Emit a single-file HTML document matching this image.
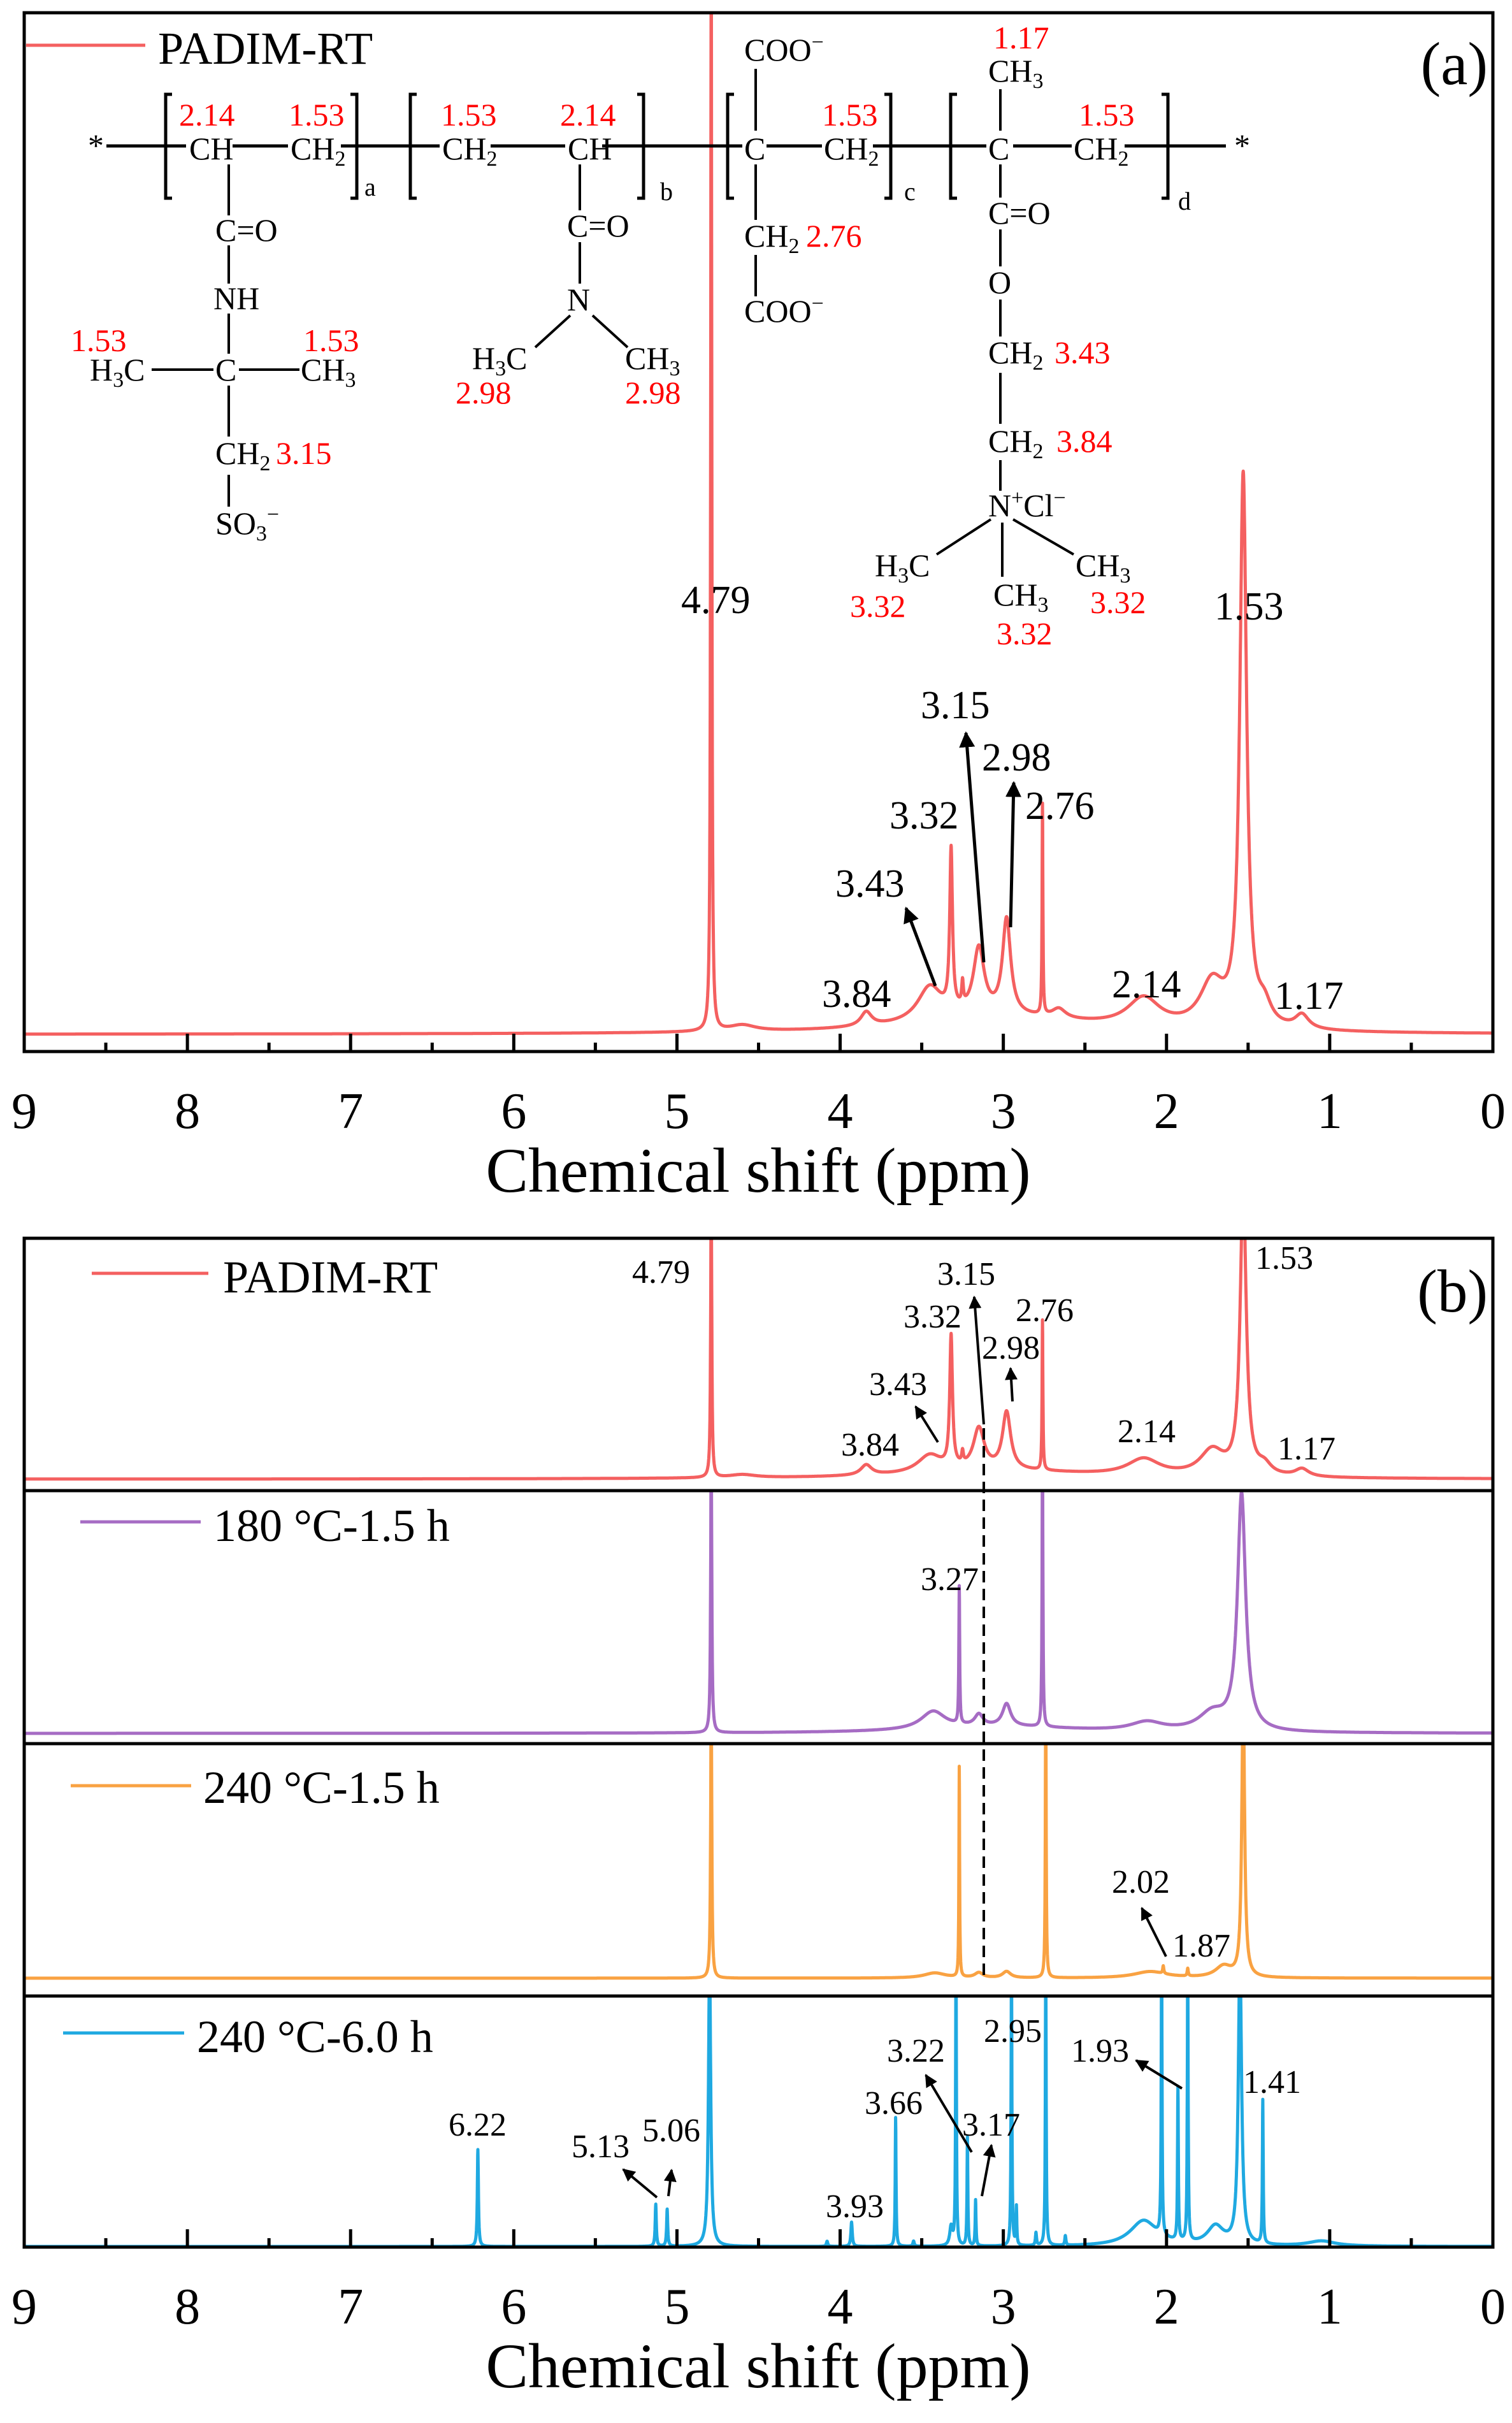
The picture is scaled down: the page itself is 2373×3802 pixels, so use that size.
<!DOCTYPE html>
<html><head><meta charset="utf-8"><style>
html,body{margin:0;padding:0;background:#fff}
svg{display:block}
text{font-family:"Liberation Serif",serif;fill:#000}
.r{fill:#f00}
.s{font-size:50px}
.lb{font-size:62px}
.lb2{font-size:52px}
.tk{font-size:80px;text-anchor:middle}
.ti{font-size:100px;text-anchor:middle}
</style></head><body>
<svg id="c" width="2373" height="3802" viewBox="0 0 2373 3802" xmlns="http://www.w3.org/2000/svg">
<defs>
<clipPath id="ca"><rect x="38" y="20" width="2305" height="1630"/></clipPath>
<clipPath id="cb1"><rect x="38" y="1943" width="2305" height="396"/></clipPath>
<clipPath id="cb2"><rect x="38" y="2339" width="2305" height="397"/></clipPath>
<clipPath id="cb3"><rect x="38" y="2736" width="2305" height="396"/></clipPath>
<clipPath id="cb4"><rect x="38" y="3132" width="2305" height="394"/></clipPath>
<marker id="ar" viewBox="0 0 10 10" refX="9" refY="5" markerWidth="5" markerHeight="5" orient="auto"><path d="M0,0L10,5L0,10z" fill="#000"/></marker>
</defs>
<g id="spec"></g>
<rect x="38" y="20" width="2305" height="1630" fill="none" stroke="#000" stroke-width="5"/>
<rect x="38" y="1943" width="2305" height="1583" fill="none" stroke="#000" stroke-width="5"/>
<line x1="38" y1="2339" x2="2343" y2="2339" stroke="#000" stroke-width="5"/>
<line x1="38" y1="2736" x2="2343" y2="2736" stroke="#000" stroke-width="5"/>
<line x1="38" y1="3132" x2="2343" y2="3132" stroke="#000" stroke-width="5"/>
<g id="ticks"></g>
<text class="ti" x="1190" y="1870">Chemical shift (ppm)</text>
<text class="ti" x="1190" y="3746">Chemical shift (ppm)</text>

<line x1="41" y1="71" x2="228" y2="71" stroke="#f46060" stroke-width="5"/>
<text x="248" y="100" style="font-size:72px">PADIM-RT</text>
<text x="2335" y="132" style="font-size:95px;text-anchor:end">(a)</text>

<g class="s">
<g stroke="#000" stroke-width="5">
<line x1="167" y1="229" x2="292" y2="229"/><line x1="365" y1="229" x2="452" y2="229"/>
<line x1="535" y1="229" x2="690" y2="229"/><line x1="770" y1="229" x2="887" y2="229"/>
<line x1="945" y1="229" x2="1165" y2="229"/><line x1="1203" y1="229" x2="1290" y2="229"/>
<line x1="1370" y1="229" x2="1548" y2="229"/><line x1="1590" y1="229" x2="1682" y2="229"/>
<line x1="1765" y1="229" x2="1924" y2="229"/>
</g>
<text x="138" y="245">*</text><text x="1937" y="245">*</text>
<path d="M270,148h-10v163h10M550,148h10v163h-10" fill="none" stroke="#000" stroke-width="5"/>
<path d="M654,148h-10v163h10M1000,148h10v163h-10" fill="none" stroke="#000" stroke-width="5"/>
<path d="M1152,148h-10v163h10M1388,148h10v163h-10" fill="none" stroke="#000" stroke-width="5"/>
<path d="M1502,148h-10v163h10M1823,148h10v163h-10" fill="none" stroke="#000" stroke-width="5"/>
<text class="r" x="281" y="197">2.14</text><text class="r" x="453" y="197">1.53</text>
<text x="297" y="250">CH</text><text x="456" y="250">CH<tspan font-size="34" dy="10">2</tspan></text>
<text x="572" y="307" font-size="40">a</text>
<line x1="359" y1="258" x2="359" y2="338" stroke="#000" stroke-width="4"/>
<text x="338" y="378">C=O</text>
<line x1="359" y1="385" x2="359" y2="445" stroke="#000" stroke-width="4"/>
<text x="335" y="485">NH</text>
<line x1="359" y1="492" x2="359" y2="555" stroke="#000" stroke-width="4"/>
<text class="r" x="111" y="551">1.53</text><text class="r" x="476" y="551">1.53</text>
<text x="141" y="597">H<tspan font-size="34" dy="10">3</tspan><tspan dy="-10">C</tspan></text>
<line x1="238" y1="580" x2="335" y2="580" stroke="#000" stroke-width="4"/>
<text x="338" y="597">C</text>
<line x1="375" y1="580" x2="470" y2="580" stroke="#000" stroke-width="4"/>
<text x="472" y="597">CH<tspan font-size="34" dy="10">3</tspan></text>
<line x1="359" y1="605" x2="359" y2="685" stroke="#000" stroke-width="4"/>
<text x="338" y="728">CH<tspan font-size="34" dy="10">2</tspan></text><text class="r" x="433" y="728">3.15</text>
<line x1="359" y1="745" x2="359" y2="795" stroke="#000" stroke-width="4"/>
<text x="338" y="838">SO<tspan font-size="34" dy="10">3</tspan><tspan font-size="34" dy="-30">−</tspan></text>

<text class="r" x="692" y="197">1.53</text><text class="r" x="879" y="197">2.14</text>
<text x="694" y="250">CH<tspan font-size="34" dy="10">2</tspan></text><text x="891" y="250">CH</text>
<text x="1036" y="314" font-size="40">b</text>
<line x1="910" y1="258" x2="910" y2="330" stroke="#000" stroke-width="4"/>
<text x="890" y="371">C=O</text>
<line x1="910" y1="380" x2="910" y2="445" stroke="#000" stroke-width="4"/>
<text x="890" y="487">N</text>
<line x1="895" y1="495" x2="840" y2="545" stroke="#000" stroke-width="4"/>
<line x1="930" y1="495" x2="985" y2="545" stroke="#000" stroke-width="4"/>
<text x="741" y="579">H<tspan font-size="34" dy="10">3</tspan><tspan dy="-10">C</tspan></text>
<text x="981" y="579">CH<tspan font-size="34" dy="10">3</tspan></text>
<text class="r" x="715" y="633">2.98</text><text class="r" x="981" y="633">2.98</text>

<text x="1168" y="95">COO<tspan font-size="34" dy="-18">−</tspan></text>
<line x1="1186" y1="108" x2="1186" y2="205" stroke="#000" stroke-width="4"/>
<text x="1168" y="250">C</text>
<text class="r" x="1290" y="197">1.53</text>
<text x="1293" y="250">CH<tspan font-size="34" dy="10">2</tspan></text>
<text x="1419" y="314" font-size="40">c</text>
<line x1="1186" y1="258" x2="1186" y2="345" stroke="#000" stroke-width="4"/>
<text x="1168" y="387">CH<tspan font-size="34" dy="10">2</tspan></text><text class="r" x="1265" y="387">2.76</text>
<line x1="1186" y1="400" x2="1186" y2="465" stroke="#000" stroke-width="4"/>
<text x="1168" y="505">COO<tspan font-size="34" dy="-18">−</tspan></text>

<text class="r" x="1559" y="76">1.17</text>
<text x="1551" y="128">CH<tspan font-size="34" dy="10">3</tspan></text>
<line x1="1570" y1="140" x2="1570" y2="205" stroke="#000" stroke-width="4"/>
<text x="1551" y="250">C</text>
<text class="r" x="1693" y="197">1.53</text>
<text x="1685" y="250">CH<tspan font-size="34" dy="10">2</tspan></text>
<text x="1849" y="329" font-size="40">d</text>
<line x1="1570" y1="258" x2="1570" y2="310" stroke="#000" stroke-width="4"/>
<text x="1551" y="351">C=O</text>
<line x1="1570" y1="360" x2="1570" y2="418" stroke="#000" stroke-width="4"/>
<text x="1551" y="460">O</text>
<line x1="1570" y1="470" x2="1570" y2="528" stroke="#000" stroke-width="4"/>
<text x="1551" y="570">CH<tspan font-size="34" dy="10">2</tspan></text><text class="r" x="1655" y="570">3.43</text>
<line x1="1570" y1="585" x2="1570" y2="665" stroke="#000" stroke-width="4"/>
<text x="1551" y="709">CH<tspan font-size="34" dy="10">2</tspan></text><text class="r" x="1658" y="709">3.84</text>
<line x1="1570" y1="722" x2="1570" y2="770" stroke="#000" stroke-width="4"/>
<text x="1551" y="810">N<tspan font-size="34" dy="-18">+</tspan><tspan dy="18">Cl</tspan><tspan font-size="34" dy="-18">−</tspan></text>
<line x1="1555" y1="815" x2="1470" y2="870" stroke="#000" stroke-width="4"/>
<line x1="1590" y1="815" x2="1685" y2="870" stroke="#000" stroke-width="4"/>
<line x1="1573" y1="820" x2="1573" y2="905" stroke="#000" stroke-width="4"/>
<text x="1373" y="904">H<tspan font-size="34" dy="10">3</tspan><tspan dy="-10">C</tspan></text>
<text x="1688" y="904">CH<tspan font-size="34" dy="10">3</tspan></text>
<text x="1559" y="950">CH<tspan font-size="34" dy="10">3</tspan></text>
<text class="r" x="1334" y="968">3.32</text><text class="r" x="1711" y="962">3.32</text><text class="r" x="1564" y="1011">3.32</text>
</g>

<g class="lb">
<text x="1069" y="962">4.79</text><text x="1906" y="972">1.53</text>
<text x="1445" y="1127">3.15</text><text x="1541" y="1209">2.98</text>
<text x="1396" y="1300">3.32</text><text x="1609" y="1285">2.76</text>
<text x="1311" y="1407">3.43</text><text x="1290" y="1580">3.84</text>
<text x="1745" y="1565">2.14</text><text x="2000" y="1583">1.17</text>
</g>
<g stroke="#000" stroke-width="5" marker-end="url(#ar)">
<line x1="1468" y1="1547" x2="1422" y2="1425"/>
<line x1="1544" y1="1510" x2="1516" y2="1150"/>
<line x1="1586" y1="1455" x2="1591" y2="1228"/>
</g>

<line x1="144" y1="1998" x2="327" y2="1998" stroke="#f46060" stroke-width="5"/>
<text x="350" y="2028" style="font-size:72px">PADIM-RT</text>
<text x="2335" y="2058" style="font-size:95px;text-anchor:end">(b)</text>
<line x1="126" y1="2388" x2="315" y2="2388" stroke="#a66cc4" stroke-width="5"/>
<text x="335" y="2418" style="font-size:72px">180 °C-1.5 h</text>
<line x1="111" y1="2802" x2="300" y2="2802" stroke="#f9a242" stroke-width="5"/>
<text x="319" y="2829" style="font-size:72px">240 °C-1.5 h</text>
<line x1="99" y1="3190" x2="289" y2="3190" stroke="#1fa9e1" stroke-width="5"/>
<text x="309" y="3220" style="font-size:72px">240 °C-6.0 h</text>

<g class="lb2">
<text x="992" y="2013">4.79</text><text x="1970" y="1991">1.53</text>
<text x="1471" y="2016">3.15</text><text x="1418" y="2083">3.32</text>
<text x="1594" y="2073">2.76</text><text x="1541" y="2132">2.98</text>
<text x="1364" y="2189">3.43</text><text x="1320" y="2284">3.84</text>
<text x="1754" y="2263">2.14</text><text x="2005" y="2290">1.17</text>
<text x="1445" y="2495">3.27</text>
<text x="1745" y="2970">2.02</text><text x="1840" y="3070">1.87</text>
<text x="704" y="3351">6.22</text><text x="897" y="3385">5.13</text>
<text x="1008" y="3360">5.06</text><text x="1296" y="3479">3.93</text>
<text x="1357" y="3317">3.66</text><text x="1392" y="3235">3.22</text>
<text x="1510" y="3351">3.17</text><text x="1544" y="3204">2.95</text>
<text x="1681" y="3235">1.93</text><text x="1951" y="3284">1.41</text>
</g>
<g stroke="#000" stroke-width="4" marker-end="url(#ar)">
<line x1="1472" y1="2263" x2="1437" y2="2207"/>
<line x1="1544" y1="2235" x2="1529" y2="2035"/>
<line x1="1589" y1="2199" x2="1586" y2="2147"/>
<line x1="1830" y1="3070" x2="1792" y2="2994"/>
<line x1="1031" y1="3448" x2="978" y2="3404"/>
<line x1="1049" y1="3446" x2="1054" y2="3405"/>
<line x1="1525" y1="3377" x2="1453" y2="3256"/>
<line x1="1541" y1="3446" x2="1556" y2="3366"/>
<line x1="1855" y1="3277" x2="1783" y2="3233"/>
</g>
<line x1="1544" y1="2241" x2="1544" y2="3101" stroke="#000" stroke-width="4" stroke-dasharray="18,10"/>
</svg>
<script>
(function(){
var NS="http://www.w3.org/2000/svg",L=38,R=2343;
function X(p){return L+(9-p)/9*(R-L);}
function spec(base,peaks,color,clip){
  var d="",step=0.001;
  for(var p=9;p>=-0.0001;p-=step){
    var y=base;
    for(var i=0;i<peaks.length;i++){var k=peaks[i],dx=p-k[0];y-=k[1]*k[2]*k[2]/(dx*dx+k[2]*k[2]);}
    d+=(d?"L":"M")+X(p).toFixed(1)+","+Math.max(y,-500).toFixed(1);
  }
  var e=document.createElementNS(NS,"path");
  e.setAttribute("d",d);e.setAttribute("fill","none");e.setAttribute("stroke",color);
  e.setAttribute("stroke-width","5");e.setAttribute("stroke-linejoin","round");
  e.setAttribute("clip-path","url(#"+clip+")");
  document.getElementById("spec").appendChild(e);
}
var red="#f46060";
spec(1623,[[4.79,1700,0.004],[4.6,10,0.1],[3.84,22,0.04],[3.45,55,0.09],[3.32,250,0.01],[3.25,35,0.006],[3.15,105,0.04],[2.98,150,0.03],[2.76,330,0.003],[2.66,15,0.05],[2.14,45,0.12],[1.72,70,0.09],[1.53,860,0.025],[1.4,30,0.05],[1.17,22,0.05],[3.0,25,0.7]],red,"ca");
spec(2321,[[4.79,450,0.004],[4.6,5,0.1],[3.84,16,0.04],[3.45,28,0.09],[3.32,205,0.01],[3.25,18,0.006],[3.15,65,0.04],[2.98,90,0.03],[2.76,235,0.003],[2.14,26,0.12],[1.72,40,0.09],[1.53,450,0.022],[1.4,15,0.05],[1.17,12,0.05],[3.0,12,0.7]],red,"cb1");
spec(2720,[[4.79,450,0.004],[3.43,28,0.09],[3.27,215,0.003],[3.15,18,0.03],[2.98,35,0.03],[2.76,450,0.003],[2.12,14,0.12],[1.72,28,0.1],[1.54,370,0.03],[3.0,10,0.6]],"#a66cc4","cb2");
spec(3104,[[4.79,450,0.004],[3.42,8,0.08],[3.27,330,0.0025],[3.15,8,0.03],[2.98,10,0.03],[2.74,450,0.003],[2.1,10,0.12],[2.02,12,0.004],[1.87,12,0.004],[1.65,18,0.06],[1.53,450,0.01]],"#f9a242","cb3");
spec(3525,[[6.22,152,0.004],[5.13,66,0.004],[5.06,58,0.004],[4.80,450,0.008],[4.08,8,0.005],[3.93,38,0.005],[3.66,202,0.003],[3.55,8,0.005],[3.32,30,0.01],[3.29,450,0.003],[3.22,170,0.003],[3.17,72,0.003],[2.95,450,0.003],[2.92,60,0.003],[2.8,20,0.004],[2.74,450,0.003],[2.62,15,0.004],[2.14,40,0.1],[2.03,450,0.003],[1.93,240,0.003],[1.87,450,0.003],[1.7,30,0.06],[1.55,450,0.012],[1.41,225,0.003],[1.05,8,0.1]],"#1fa9e1","cb4");
var t=document.getElementById("ticks"),s="";
[[1650,1770],[3526,3646]].forEach(function(a){
  for(var i=0;i<=18;i++){var p=i/2,x=X(p),len=(i%2==0)?28:14;
    s+='<line x1="'+x+'" y1="'+a[0]+'" x2="'+x+'" y2="'+(a[0]-len)+'" stroke="#000" stroke-width="5"/>';
    if(i%2==0)s+='<text class="tk" x="'+x+'" y="'+a[1]+'">'+p+'</text>';}
});
t.innerHTML=s;
})();
</script>
</body></html>
